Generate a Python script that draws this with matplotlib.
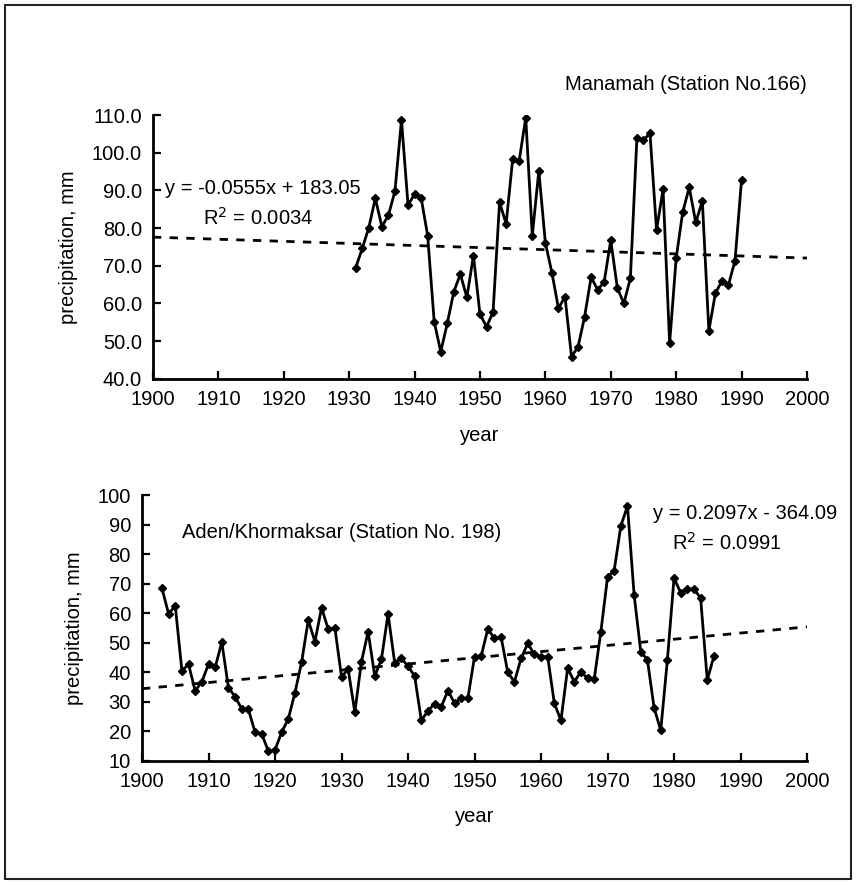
import numpy as np
import matplotlib.pyplot as plt
from matplotlib.patches import Rectangle
from matplotlib.ticker import FormatStrFormatter

plt.rcParams['font.family'] = ['Liberation Sans', 'DejaVu Sans']

# Manamah (Station No.166), 1931-1990
manamah_years = list(range(1931, 1991))
manamah_precip = [69.5, 74.6, 80.1, 87.9, 80.4, 83.4, 89.8, 108.7, 86.1, 89.0,
                  88.1, 78.0, 55.2, 47.2, 54.7, 63.1, 67.8, 61.6, 72.7, 57.2,
                  53.8, 57.7, 86.9, 81.1, 98.3, 97.9, 109.3, 78.0, 95.2, 76.1,
                  68.2, 58.7, 61.8, 45.9, 48.5, 56.5, 67.0, 63.6, 65.8, 76.8,
                  64.2, 60.0, 66.7, 104.0, 103.4, 105.1, 79.5, 90.3, 49.4, 72.0,
                  84.2, 90.8, 81.5, 87.2, 52.8, 62.7, 66.0, 64.9, 71.4, 92.8]
manamah_trend = (-0.0555, 183.05)

# Aden/Khormaksar (Station No. 198), 1903-1986
aden_years = list(range(1903, 1987))
aden_precip = [68.4, 59.7, 62.5, 40.4, 42.6, 33.6, 36.7, 42.7, 41.6, 50.1,
               34.7, 31.6, 27.5, 27.3, 19.6, 19.0, 13.2, 13.6, 19.6, 24.1,
               33.0, 43.3, 57.6, 50.3, 61.8, 54.5, 55.0, 38.4, 40.9, 26.4,
               43.5, 53.7, 38.6, 44.3, 59.7, 43.0, 44.6, 42.0, 38.6, 23.6,
               26.8, 29.3, 28.2, 33.7, 29.4, 31.1, 31.1, 45.2, 45.4, 54.6,
               51.4, 51.8, 39.9, 36.7, 44.6, 49.7, 46.0, 45.2, 45.2, 29.4,
               23.6, 41.3, 36.7, 40.1, 37.9, 37.6, 53.7, 72.1, 74.4, 89.5,
               96.3, 66.1, 46.9, 44.1, 27.9, 20.2, 44.1, 71.8, 66.9, 68.0,
               68.2, 65.0, 37.3, 45.4]
aden_trend = (0.2097, -364.09)

year_ticks = list(range(1900, 2001, 10))

fig = plt.figure(figsize=(8.57, 8.84), dpi=100)
fig.patches.append(Rectangle((5 / 857, 5 / 884), 846 / 857, 874 / 884,
                             transform=fig.transFigure, fill=False,
                             edgecolor='#222222', linewidth=1.5))

ax1 = fig.add_axes([0.1785, 0.5714, 0.7631, 0.2985])
ax2 = fig.add_axes([0.1657, 0.1397, 0.776, 0.3003])

fs = 14.5


def style_axis(ax):
    for side in ['top', 'right']:
        ax.spines[side].set_visible(False)
    for side in ['left', 'bottom']:
        ax.spines[side].set_linewidth(2)
    ax.tick_params(direction='in', length=6, width=1.6, labelsize=fs, pad=8)
    ax.set_xlim(1900, 2000)
    ax.set_xticks(year_ticks)
    ax.set_xlabel('year', fontsize=fs, labelpad=12)
    ax.set_ylabel('precipitation, mm', fontsize=fs, labelpad=10)


def plot_series(ax, years, values, trend):
    xs = np.array([1900, 2000])
    ax.plot(xs, trend[0] * xs + trend[1], color='black', linestyle=(0, (3, 3)),
            linewidth=2)
    ax.plot(years, values, color='black', linewidth=2, marker='D', markersize=4)


# top panel
plot_series(ax1, manamah_years, manamah_precip, manamah_trend)
style_axis(ax1)
ax1.set_ylim(40, 110)
ax1.set_yticks(np.arange(40, 111, 10))
ax1.yaxis.set_major_formatter(FormatStrFormatter('%.1f'))
ax1.text(0.63, 1.115, 'Manamah (Station No.166)', transform=ax1.transAxes,
         fontsize=fs, ha='left', va='center')
ax1.text(0.018, 0.72, 'y = -0.0555x + 183.05', transform=ax1.transAxes,
         fontsize=fs, ha='left', va='center')
ax1.text(0.16, 0.61, 'R$^2$ = 0.0034', transform=ax1.transAxes,
         fontsize=fs, ha='center', va='center')

# bottom panel
plot_series(ax2, aden_years, aden_precip, aden_trend)
style_axis(ax2)
ax2.set_ylim(10, 100)
ax2.set_yticks(np.arange(10, 101, 10))
ax2.text(0.06, 0.86, 'Aden/Khormaksar (Station No. 198)', transform=ax2.transAxes,
         fontsize=fs, ha='left', va='center')
ax2.text(0.768, 0.93, 'y = 0.2097x - 364.09', transform=ax2.transAxes,
         fontsize=fs, ha='left', va='center')
ax2.text(0.88, 0.82, 'R$^2$ = 0.0991', transform=ax2.transAxes,
         fontsize=fs, ha='center', va='center')

fig.savefig('out.png', dpi=100)
